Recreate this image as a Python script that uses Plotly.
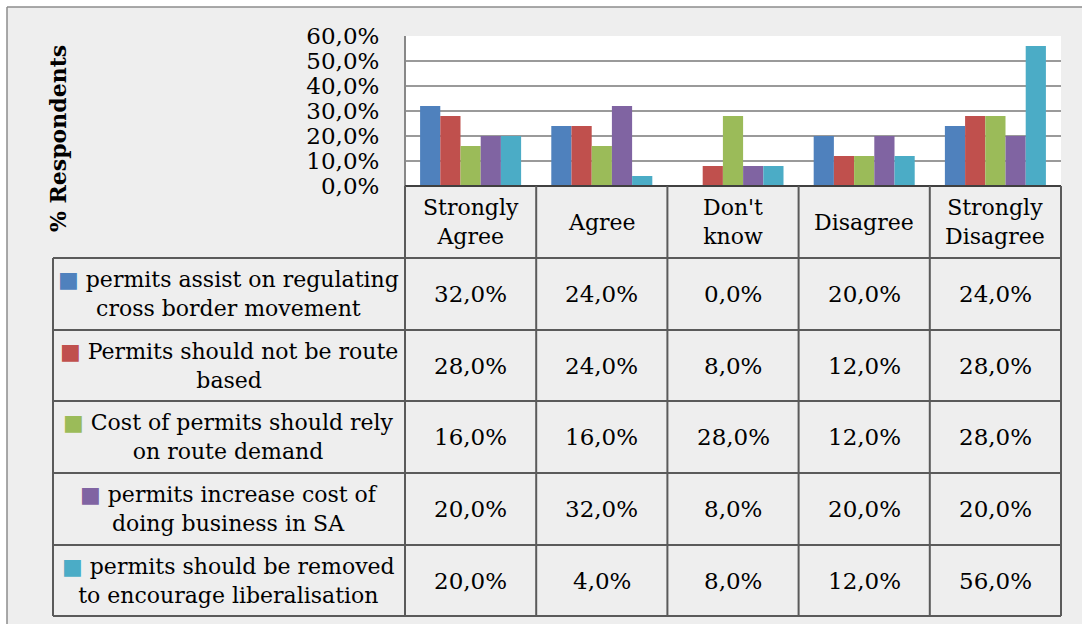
import plotly.graph_objects as go

# ---------------- data ----------------
categories = ["Strongly Agree", "Agree", "Don't know", "Disagree", "Strongly Disagree"]
header_labels = ["Strongly<br>Agree", "Agree", "Don't<br>know", "Disagree", "Strongly<br>Disagree"]

series_names = [
    "permits assist on regulating cross border movement",
    "Permits should not be route based",
    "Cost of permits should rely on route demand",
    "permits increase cost of doing business in SA",
    "permits should be removed to encourage liberalisation",
]
series_labels = [
    "permits assist on regulating<br>cross border movement",
    "Permits should not be route<br>based",
    "Cost of permits should rely<br>on route demand",
    "permits increase cost of<br>doing business in SA",
    "permits should be removed<br>to encourage liberalisation",
]
regulating = [32.0, 24.0, 0.0, 20.0, 24.0]
not_route_based = [28.0, 24.0, 8.0, 12.0, 28.0]
cost_route_demand = [16.0, 16.0, 28.0, 12.0, 28.0]
increase_cost = [20.0, 32.0, 8.0, 20.0, 20.0]
removed_liberalisation = [20.0, 4.0, 8.0, 12.0, 56.0]
series_values = [regulating, not_route_based, cost_route_demand, increase_cost, removed_liberalisation]

colors = ["#4F81BD", "#C0504D", "#9BBB59", "#8064A2", "#4BACC6"]

y_ticks = [0, 10, 20, 30, 40, 50, 60]
y_tick_labels = ["0,0%", "10,0%", "20,0%", "30,0%", "40,0%", "50,0%", "60,0%"]
y_title = "% Respondents"

# ---------------- layout helpers ----------------
W, H = 1082, 624
FONT = "DejaVu Serif"


def px(x):
    return x / W


def py(y):
    return 1 - y / H


plot_left, plot_right = 405, 1061
plot_top, plot_bottom = 36, 186
table_left = 53
row_edges = [258, 330, 401, 473, 545, 616]
col_w = (plot_right - plot_left) / len(categories)
col_edges = [plot_left + i * col_w for i in range(len(categories) + 1)]


def fmt(v):
    return f"{v:.1f}%".replace(".", ",")


fig = go.Figure()
for name, vals, col in zip(series_names, series_values, colors):
    fig.add_trace(go.Bar(
        x=categories, y=vals, name=name,
        marker=dict(color=col, line=dict(width=0)),
    ))

shapes = []
table_line = "#5a5a5a"
# white margins left/top outside the textured chart area
shapes.append(dict(type="rect", xref="paper", yref="paper", x0=-0.01, x1=px(7), y0=-0.01, y1=1.01,
                   fillcolor="white", line=dict(width=0), layer="below"))
shapes.append(dict(type="rect", xref="paper", yref="paper", x0=-0.01, x1=1.01, y0=py(7), y1=1.01,
                   fillcolor="white", line=dict(width=0), layer="below"))
shapes.append(dict(type="line", xref="paper", yref="paper", x0=px(7), x1=1.01, y0=py(7), y1=py(7),
                   line=dict(color="#8c8c8c", width=1.5)))
shapes.append(dict(type="line", xref="paper", yref="paper", x0=px(7), x1=px(7), y0=py(7), y1=-0.01,
                   line=dict(color="#8c8c8c", width=1.5)))

# plot-area left axis line
shapes.append(dict(type="line", xref="paper", yref="paper", x0=px(plot_left), x1=px(plot_left),
                   y0=py(plot_top), y1=py(plot_bottom), line=dict(color="#888888", width=2)))
# table horizontal lines
shapes.append(dict(type="line", xref="paper", yref="paper", x0=px(plot_left), x1=px(plot_right),
                   y0=py(plot_bottom), y1=py(plot_bottom), line=dict(color="#404040", width=2)))
for y in row_edges:
    shapes.append(dict(type="line", xref="paper", yref="paper", x0=px(table_left), x1=px(plot_right),
                       y0=py(y), y1=py(y), line=dict(color=table_line, width=2)))
# table vertical lines
shapes.append(dict(type="line", xref="paper", yref="paper", x0=px(table_left), x1=px(table_left),
                   y0=py(row_edges[0]), y1=py(row_edges[-1]), line=dict(color=table_line, width=2)))
for x in col_edges:
    shapes.append(dict(type="line", xref="paper", yref="paper", x0=px(x), x1=px(x),
                       y0=py(plot_bottom), y1=py(row_edges[-1]), line=dict(color=table_line, width=2)))

annotations = []
# y-axis title
annotations.append(dict(xref="paper", yref="paper", x=px(58), y=py(139), text="<b>" + y_title + "</b>",
                        textangle=-90, showarrow=False, font=dict(family=FONT, size=22, color="black"),
                        xanchor="center", yanchor="middle"))
# header cells
for i, lab in enumerate(header_labels):
    cx = (col_edges[i] + col_edges[i + 1]) / 2
    annotations.append(dict(xref="paper", yref="paper", x=px(cx), y=py((plot_bottom + row_edges[0]) / 2),
                            text=lab, showarrow=False, align="center",
                            font=dict(family=FONT, size=22, color="black"),
                            xanchor="center", yanchor="middle"))
# series rows
for r, (lab, vals, col) in enumerate(zip(series_labels, series_values, colors)):
    cy = (row_edges[r] + row_edges[r + 1]) / 2
    text = f"<span style='color:{col}'>■</span> " + lab
    annotations.append(dict(xref="paper", yref="paper", x=px((table_left + plot_left) / 2), y=py(cy),
                            text=text, showarrow=False, align="center",
                            font=dict(family=FONT, size=22, color="black"),
                            xanchor="center", yanchor="middle"))
    for i, v in enumerate(vals):
        cx = (col_edges[i] + col_edges[i + 1]) / 2
        annotations.append(dict(xref="paper", yref="paper", x=px(cx), y=py(cy), text=fmt(v),
                                showarrow=False, font=dict(family=FONT, size=23, color="black"),
                                xanchor="center", yanchor="middle"))

fig.update_layout(
    template="none",
    width=W, height=H, autosize=False,
    margin=dict(l=0, r=0, t=0, b=0, pad=0),
    paper_bgcolor="#eeeeee",
    plot_bgcolor="white",
    showlegend=False,
    barmode="group", bargap=0.23, bargroupgap=0,
    xaxis=dict(domain=[px(plot_left), px(plot_right)], range=[-0.5, 4.5], automargin=False,
               showticklabels=False, showgrid=False, zeroline=False, showline=False, fixedrange=True),
    yaxis=dict(domain=[py(plot_bottom), py(plot_top)], range=[0, 60], automargin=False,
               tickvals=y_ticks, ticktext=y_tick_labels,
               ticks="outside", ticklen=20, tickcolor="rgba(0,0,0,0)",
               tickfont=dict(family=FONT, size=23, color="black"),
               showgrid=True, gridcolor="#9a9a9a", gridwidth=2,
               zeroline=False, showline=False, fixedrange=True),
    shapes=shapes,
    annotations=annotations,
)

fig.write_html("out.html", config={"displayModeBar": False},
               post_script="document.body.style.margin='0px';")
